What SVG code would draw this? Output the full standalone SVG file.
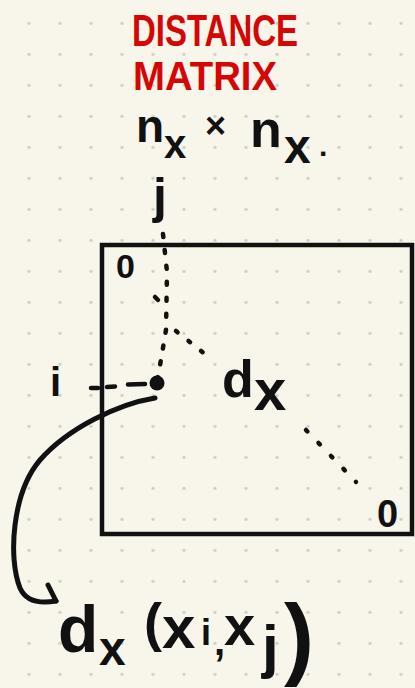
<svg xmlns="http://www.w3.org/2000/svg" width="415" height="688" viewBox="0 0 415 688">
  <defs>
    <pattern id="dots" x="13.5" y="7.8" width="31" height="31" patternUnits="userSpaceOnUse">
      <circle cx="15.5" cy="15.5" r="1.6" fill="#cbcbc3"/>
    </pattern>
    <style>
      .t { font-family: "Liberation Sans", Arial, sans-serif; font-weight: bold; fill: #111; }
      .red { fill: #d40606; }
      .dotted { fill: none; stroke: #111; stroke-width: 4.5; stroke-linecap: round; }
      .ink { fill: none; stroke: #111; stroke-width: 5; stroke-linecap: round; stroke-linejoin: round; }
    </style>
  </defs>
  <rect width="415" height="688" fill="#f8f6ea"/>
  <rect width="415" height="688" fill="url(#dots)"/>

  <g id="title">
    <text class="t red" x="132" y="46" font-size="45" textLength="166" lengthAdjust="spacingAndGlyphs">DISTANCE</text>
    <text class="t red" x="133" y="90" font-size="40" textLength="144" lengthAdjust="spacingAndGlyphs">MATRIX</text>
  </g>

  <g id="dims">
    <text class="t" x="136" y="142" font-size="46">n</text>
    <text class="t" x="164" y="158" font-size="40">x</text>
    <text class="t" x="205" y="138" font-size="36">×</text>
    <text class="t" x="250" y="147" font-size="52">n</text>
    <text class="t" x="284" y="163" font-size="48">x</text>
    <text class="t" x="319" y="156" font-size="30">.</text>
  </g>

  <g id="label-j">
    <text class="t" x="153" y="213" font-size="50">j</text>
  </g>

  <g id="matrix">
    <rect x="102" y="245" width="310" height="289" fill="none" stroke="#111" stroke-width="4.5"/>
  </g>

  <g id="zero-top">
    <text class="t" x="116" y="278" font-size="34">0</text>
  </g>
  <g id="zero-bottom">
    <text class="t" x="377" y="527" font-size="38">0</text>
  </g>

  <g id="label-i">
    <text class="t" x="50" y="396" font-size="40">i</text>
  </g>

  <g id="dx-label">
    <text class="t" x="222" y="397" font-size="52">d</text>
    <text class="t" x="254" y="410" font-size="58">x</text>
  </g>

  <g id="connectors">
    <path class="dotted" d="M163,234 L167,272 L166,330 L157,383" stroke-dasharray="3 13"/>
    <path class="dotted" d="M155,297 L158,300"/>
    <path class="dotted" d="M176,331 L210,358" stroke-dasharray="2 14"/>
    <path class="dotted" d="M306,430 L356,482" stroke-dasharray="2 16"/>
    <path class="dotted" d="M91,388 L98,388 M107,387 L115,386.5 M128,384.5 L145,384"/>
    <path class="ink" d="M155,398 C118,404 68,428 40,460 C12,493 8,558 20,588 Q28,606 56,601"/>
    <path class="ink" d="M48,585 L56,601"/>
  </g>

  <g id="point">
    <circle cx="157" cy="383" r="7.5" fill="#111"/>
  </g>

  <g id="formula">
    <text class="t" x="58" y="652" font-size="66">d</text>
    <text class="t" x="99" y="665" font-size="48">x</text>
    <text class="t" x="144" y="641" font-size="54">(</text>
    <text class="t" x="162" y="648" font-size="60">x</text>
    <text class="t" x="201" y="645" font-size="36">i</text>
    <text class="t" x="214" y="655" font-size="40">,</text>
    <text class="t" x="224" y="645" font-size="56">x</text>
    <text class="t" x="262" y="667" font-size="60">j</text>
    <text class="t" x="284" y="668" font-size="90">)</text>
  </g>
</svg>
